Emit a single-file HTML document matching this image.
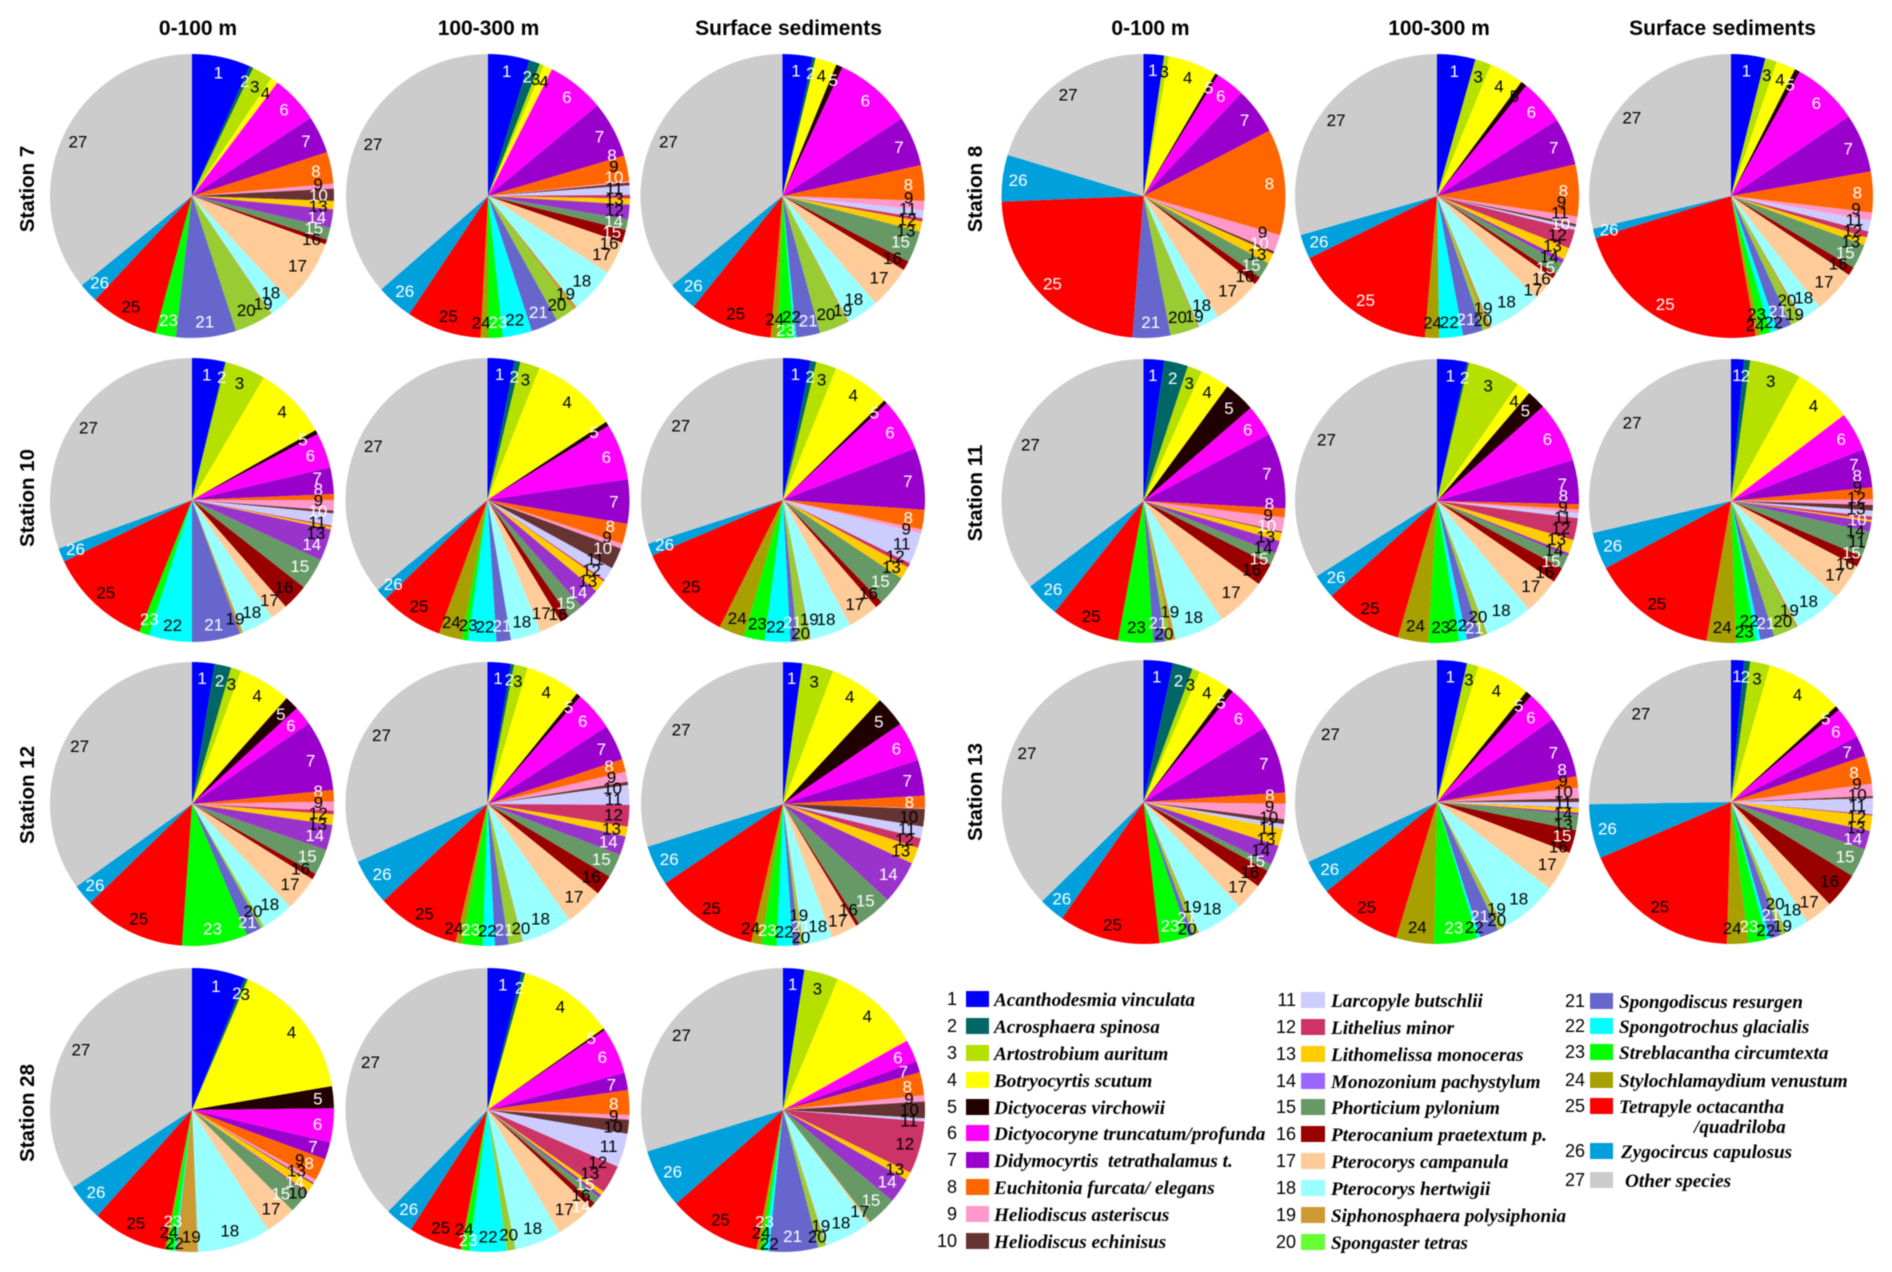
<!DOCTYPE html>
<html lang="en">
<head>
<meta charset="utf-8">
<title>Radiolarian species composition by station</title>
<style>
html,body{margin:0;padding:0;background:#fff;}
svg{display:block;filter:blur(0.4px);}
.title{font:bold 21px "Liberation Sans",sans-serif;text-anchor:middle;fill:#000;}
.station{font:bold 20.5px "Liberation Sans",sans-serif;text-anchor:middle;fill:#000;}
.num{font:18px "Liberation Sans",sans-serif;text-anchor:end;fill:#000;}
.sp{font:italic bold 19.2px "Liberation Serif",serif;fill:#000;}
.lab{font:17px "Liberation Sans",sans-serif;text-anchor:middle;}
</style>
</head>
<body>
<svg id="chart" xmlns="http://www.w3.org/2000/svg" width="1892" height="1272" viewBox="0 0 1892 1272">
<rect width="1892" height="1272" fill="#fff"/>

<text class="title" x="198" y="35">0-100 m</text>
<text class="title" x="488.5" y="35">100-300 m</text>
<text class="title" x="788.5" y="35">Surface sediments</text>
<text class="title" x="1150.5" y="35">0-100 m</text>
<text class="title" x="1439" y="35">100-300 m</text>
<text class="title" x="1722.5" y="35">Surface sediments</text>

<text class="station" transform="translate(34,189) rotate(-90)">Station 7</text>
<text class="station" transform="translate(982,189) rotate(-90)">Station 8</text>
<text class="station" transform="translate(34,498) rotate(-90)">Station 10</text>
<text class="station" transform="translate(982,493) rotate(-90)">Station 11</text>
<text class="station" transform="translate(34,795) rotate(-90)">Station 12</text>
<text class="station" transform="translate(982,792) rotate(-90)">Station 13</text>
<text class="station" transform="translate(34,1113) rotate(-90)">Station 28</text>

<g id="pies"></g>

<g>
<g><text class="num" x="957" y="1005">1</text><rect x="966" y="991" width="23" height="16" fill="#0000ff"/><text class="sp" x="994" y="1006">Acanthodesmia vinculata</text></g>
<g><text class="num" x="957" y="1032">2</text><rect x="966" y="1018" width="23" height="16" fill="#006666"/><text class="sp" x="994" y="1033">Acrosphaera spinosa</text></g>
<g><text class="num" x="957" y="1059">3</text><rect x="966" y="1045" width="23" height="16" fill="#b5e000"/><text class="sp" x="994" y="1060">Artostrobium auritum</text></g>
<g><text class="num" x="957" y="1086">4</text><rect x="966" y="1072" width="23" height="16" fill="#ffff00"/><text class="sp" x="994" y="1087">Botryocyrtis scutum</text></g>
<g><text class="num" x="957" y="1113">5</text><rect x="966" y="1099" width="23" height="16" fill="#200000"/><text class="sp" x="994" y="1114">Dictyoceras virchowii</text></g>
<g><text class="num" x="957" y="1139">6</text><rect x="966" y="1125" width="23" height="16" fill="#ff00ff"/><text class="sp" x="994" y="1140">Dictyocoryne truncatum/profunda</text></g>
<g><text class="num" x="957" y="1166">7</text><rect x="966" y="1152" width="23" height="16" fill="#9900cc"/><text class="sp" x="994" y="1167" xml:space="preserve">Didymocyrtis  tetrathalamus t.</text></g>
<g><text class="num" x="957" y="1193">8</text><rect x="966" y="1179" width="23" height="16" fill="#ff6600"/><text class="sp" x="994" y="1194">Euchitonia furcata/ elegans</text></g>
<g><text class="num" x="957" y="1220">9</text><rect x="966" y="1206" width="23" height="16" fill="#ff99cc"/><text class="sp" x="994" y="1221">Heliodiscus asteriscus</text></g>
<g><text class="num" x="957" y="1247">10</text><rect x="966" y="1233" width="23" height="16" fill="#663333"/><text class="sp" x="994" y="1248">Heliodiscus echinisus</text></g>

<g><text class="num" x="1296" y="1006">11</text><rect x="1301" y="992" width="24" height="16" fill="#ccccff"/><text class="sp" x="1331" y="1007">Larcopyle butschlii</text></g>
<g><text class="num" x="1296" y="1033">12</text><rect x="1301" y="1019" width="24" height="16" fill="#cc3366"/><text class="sp" x="1331" y="1034">Lithelius minor</text></g>
<g><text class="num" x="1296" y="1060">13</text><rect x="1301" y="1046" width="24" height="16" fill="#ffcc00"/><text class="sp" x="1331" y="1061">Lithomelissa monoceras</text></g>
<g><text class="num" x="1296" y="1087">14</text><rect x="1301" y="1073" width="24" height="16" fill="#9966ff"/><text class="sp" x="1331" y="1088">Monozonium pachystylum</text></g>
<g><text class="num" x="1296" y="1113">15</text><rect x="1301" y="1099" width="24" height="16" fill="#669966"/><text class="sp" x="1331" y="1114">Phorticium pylonium</text></g>
<g><text class="num" x="1296" y="1140">16</text><rect x="1301" y="1126" width="24" height="16" fill="#990000"/><text class="sp" x="1331" y="1141">Pterocanium praetextum p.</text></g>
<g><text class="num" x="1296" y="1167">17</text><rect x="1301" y="1153" width="24" height="16" fill="#ffcc99"/><text class="sp" x="1331" y="1168">Pterocorys campanula</text></g>
<g><text class="num" x="1296" y="1194">18</text><rect x="1301" y="1180" width="24" height="16" fill="#99ffff"/><text class="sp" x="1331" y="1195">Pterocorys hertwigii</text></g>
<g><text class="num" x="1296" y="1221">19</text><rect x="1301" y="1207" width="24" height="16" fill="#cc9933"/><text class="sp" x="1331" y="1222">Siphonosphaera polysiphonia</text></g>
<g><text class="num" x="1296" y="1248">20</text><rect x="1301" y="1234" width="24" height="16" fill="#66ff33"/><text class="sp" x="1331" y="1249">Spongaster tetras</text></g>

<g><text class="num" x="1585" y="1007">21</text><rect x="1590" y="993" width="23" height="16" fill="#6666cc"/><text class="sp" x="1619" y="1008">Spongodiscus resurgen</text></g>
<g><text class="num" x="1585" y="1032">22</text><rect x="1590" y="1018" width="23" height="16" fill="#00ffff"/><text class="sp" x="1619" y="1033">Spongotrochus glacialis</text></g>
<g><text class="num" x="1585" y="1058">23</text><rect x="1590" y="1044" width="23" height="16" fill="#00ff00"/><text class="sp" x="1619" y="1059">Streblacantha circumtexta</text></g>
<g><text class="num" x="1585" y="1086">24</text><rect x="1590" y="1072" width="23" height="16" fill="#a8a000"/><text class="sp" x="1619" y="1087">Stylochlamaydium venustum</text></g>
<g><text class="num" x="1585" y="1112">25</text><rect x="1590" y="1098" width="23" height="16" fill="#ff0000"/><text class="sp" x="1619" y="1113">Tetrapyle octacantha</text><text class="sp" x="1694" y="1133">/quadriloba</text></g>
<g><text class="num" x="1585" y="1157">26</text><rect x="1590" y="1143" width="23" height="16" fill="#00a0dc"/><text class="sp" x="1621" y="1158">Zygocircus capulosus</text></g>
<g><text class="num" x="1585" y="1186">27</text><rect x="1590" y="1172" width="23" height="16" fill="#cccccc"/><text class="sp" x="1625" y="1187">Other species</text></g>
</g>
</svg>

<script>
// Relative abundance of species 1..27; each sample is normalised by its sum when drawn.
const st7Upper  = [24,1.5,8.5,3,0,19.6,15.4,13,2,5,0,0,3.4,7.5,5,2,27,9,.5,15.5,24.6,0,8.4,0,28,8,129];
const st7Middle = [17,4.4,1.8,3.6,0,23.6,23.1,10.5,.6,1.1,3.9,1.4,2.5,6,4.4,5.3,13.5,18.7,1.5,8.1,11,12,6,3,30.7,15.1,131.2];
const st7Sed    = [12.3,1.2,0,8.8,2.7,32,20.4,14.6,3.7,0,3.3,1.4,4.1,0,13,3.9,17.6,13.3,.7,11.7,9.7,1.1,6.3,3,34,12.2,129];
const st8Upper  = [8.4,0,2,20,1.3,11.9,19,43.4,7,1,0,0,4.3,0,6.7,3.3,20,8.7,.7,11.3,15.5,0,0,0,83.2,19.1,73.2];
const st8Middle = [15.7,0,6.6,14.2,2.5,18.7,19.4,21.3,3,1.1,1.4,7.7,4.9,1.8,5,2.1,10.3,22,1.8,1.8,8.1,9.8,0,5.7,59.1,10,106];
const st8Sed    = [14,0,4.8,8,2.2,27,24,16.7,3.3,0,4.5,2.5,3.2,0,10.1,3.5,17.6,8.6,1,4,6,3,4,2,82.7,3.9,103.4];
const st10Upper = [13.4,.4,16.6,30.1,1.8,14.4,10.9,2.4,4.3,1.1,5,.6,1,13,13,10.7,7,13.3,1.2,0,19.8,17.7,4.1,0,42.5,5.7,110];
const st10Middle= [11,2.4,8.1,35.1,1.9,23.1,18.1,8.3,2,8.7,5.6,.7,5,8.6,6.4,4,9,12.5,0,0,5.9,11.6,2.4,9.6,25.8,4.9,129.3];
const st10Sed   = [11.2,2.4,8.4,23.5,1.5,21.7,25.3,8,1.6,0,12.9,1.8,5.2,0,12.5,3,12.8,17,.7,4.7,2.8,10.5,8.5,10.5,40.5,5,108];
const st11Upper = [8.5,9.7,6,12,12.8,13,31,3.7,5.8,.5,0,0,3.4,5.2,4.9,9.3,20.6,20.6,2,2,5,0,14.4,0,28.2,14.4,127];
const st11Middle= [12.2,.8,21.7,5.8,7.8,24.9,18.1,2.2,1.5,0,2,9,5.6,1.2,5.5,6.3,15.1,19.6,.6,2.4,5.5,3.2,12.6,12.4,32,10,122];
const st11Sed   = [5.3,2.5,21,23.9,0,16,15.8,4.8,2.3,2.3,2.4,1.4,.8,4,10.5,4.5,14.9,19.6,1,9.3,5.7,2,8,12,51.8,15.2,103];
const st12Upper = [9.2,6.8,4.2,21.6,5.8,7.8,28.9,4.7,3.7,0,0,1.5,4.3,10.4,10.6,2.5,14.3,13.3,0,1.4,6.2,0,26.9,0,41.7,8.6,125.6];
const st12Middle= [9.5,1.3,5.6,22.6,1.8,16.2,14.6,5.2,4.2,1.3,8.1,8.8,4.1,7.7,9.8,8.2,15.8,20.8,.4,5.5,5.5,5,8.4,2.6,34,19,114];
const st12Sed   = [7.8,0,12.9,22.3,12.7,16.3,14.6,5.1,.3,7.2,4.8,4,6.7,17.8,15.1,1.4,10.8,12,.6,1.1,2.5,6.6,6.1,4.3,43,16.5,107.5];
const st13Upper = [12,8.2,3.2,13.4,2.2,19.5,27.7,4.5,6.3,2,2,0,7,8,3,7.3,11.2,19.5,.8,1.7,2,0,12,0,41.5,10.6,134.4];
const st13Middle= [12.2,0,4.8,22,2.6,12.8,25.1,4.7,4.3,1.5,2.3,.2,1.8,.9,6.3,9.5,16.6,24.2,.8,1.9,7.8,1.2,17.7,15.5,34.3,14,115];
const st13Sed   = [5.3,2.5,8.1,31.7,1.9,13.1,8.4,11.6,5,.9,6.5,.5,6.3,7.7,11.9,14.6,11.6,9.4,.5,2,4.5,1.5,7.5,8.7,65.2,22.2,90.9];
const st28Upper = [21.8,1.2,.5,56.8,9,14,7,9.2,1.5,.5,0,0,3.9,.6,9,0,12.6,30,8.9,0,0,.8,2.9,.8,30.8,15.2,123];
const st28Middle= [13.9,1.5,0,39.5,.8,19.1,7.1,10.1,2,5.7,13.8,11.6,1.7,1.2,3,2.5,16.1,19,0,3.6,0,15.1,3.1,.5,21.8,11.7,135.6];
const st28Sed   = [8.7,0,14.1,38,0,9.2,4.6,9.4,2.6,6.8,1.3,21.5,3.3,10.2,12.5,0,.9,19.3,.5,2.8,20,1.9,1.7,1.5,38,24.3,107];

const speciesIds = [1,2,3,4,5,6,7,8,9,10,11,12,13,14,15,16,17,18,19,20,21,22,23,24,25,26,27];
const sliceColors = ["#0000ff","#006666","#b5e000","#ffff00","#200000","#ff00ff","#9900cc","#ff6600","#ff99cc","#663333","#ccccff","#cc3366","#ffcc00","#9933cc","#669966","#990000","#ffcc99","#99ffff","#cc9933","#99cc33","#6666cc","#00ffff","#00ff00","#a8a000","#ff0000","#00a0dc","#cccccc"];

const radius = 142;
const labelRadius = 0.89;
const W = [1,6,7,8,15,21,26];
const samples = [
  {name:"station-7-0-100-m", v:st7Upper, cx:192, cy:196, white:W.concat([2,10,14,23]), skip:[]},
  {name:"station-7-100-300-m", v:st7Middle, cx:488, cy:196, white:W.concat([2,10,14,23]), skip:[]},
  {name:"station-7-surface-sediments", v:st7Sed, cx:782.5, cy:196, white:W.concat([2,5,23]), skip:[]},
  {name:"station-8-0-100-m", v:st8Upper, cx:1143.5, cy:196, white:W.concat([5,10,25]), skip:[]},
  {name:"station-8-100-300-m", v:st8Middle, cx:1437, cy:196, white:W.concat([10,25]), skip:[]},
  {name:"station-8-surface-sediments", v:st8Sed, cx:1731, cy:196, white:W.concat([5,25]), skip:[]},
  {name:"station-10-0-100-m", v:st10Upper, cx:192, cy:500, white:W.concat([2,5,10,14,23]), skip:[12]},
  {name:"station-10-100-300-m", v:st10Middle, cx:487.5, cy:500, white:W.concat([2,5,10,14]), skip:[]},
  {name:"station-10-surface-sediments", v:st10Sed, cx:783, cy:500, white:W.concat([2,5]), skip:[]},
  {name:"station-11-0-100-m", v:st11Upper, cx:1143.5, cy:501, white:W.concat([2,5,10]), skip:[]},
  {name:"station-11-100-300-m", v:st11Middle, cx:1437, cy:501, white:W.concat([2,5]), skip:[19]},
  {name:"station-11-surface-sediments", v:st11Sed, cx:1731, cy:501, white:W.concat([2,10]), skip:[]},
  {name:"station-12-0-100-m", v:st12Upper, cx:192, cy:804, white:W.concat([2,5,14,23]), skip:[]},
  {name:"station-12-100-300-m", v:st12Middle, cx:487.5, cy:804, white:W.concat([2,5,14,23]), skip:[19]},
  {name:"station-12-surface-sediments", v:st12Sed, cx:783, cy:804, white:W.concat([5,14,23]), skip:[9]},
  {name:"station-13-0-100-m", v:st13Upper, cx:1143.5, cy:802, white:W.concat([2,5,23]), skip:[]},
  {name:"station-13-100-300-m", v:st13Middle, cx:1437, cy:802, white:W.concat([5,23]), skip:[12]},
  {name:"station-13-surface-sediments", v:st13Sed, cx:1731, cy:802, white:W.concat([2,5,14,23]), skip:[]},
  {name:"station-28-0-100-m", v:st28Upper, cx:192, cy:1110, white:[1,2,5,6,7,8,14,15,23,26], skip:[]},
  {name:"station-28-100-300-m", v:st28Middle, cx:487.5, cy:1110, white:[1,2,5,6,7,8,14,15,23,26], skip:[]},
  {name:"station-28-surface-sediments", v:st28Sed, cx:783, cy:1110, white:W.concat([14,23]), skip:[]}
];

const NS = "http://www.w3.org/2000/svg";
const root = document.getElementById("pies");

function pointAt(cx, cy, r, frac) {
  const a = frac * 2 * Math.PI;
  return [cx + r * Math.sin(a), cy - r * Math.cos(a)];
}

// Spread crowded labels apart: the crowded ones stagger around their slice mid-angle.
function relaxLabels(items, cx, cy) {
  const maxR = radius - 8;
  for (let iter = 0; iter < 50; iter++) {
    for (let i = 0; i < items.length; i++) {
      for (let j = i + 1; j < items.length; j++) {
        const a = items[i], b = items[j];
        const dx = b.x - a.x, dy = b.y - a.y;
        const ox = a.hw + b.hw - Math.abs(dx);
        const oy = 5.5 + 5.5 - Math.abs(dy);
        if (ox > 0 && oy > 0) {
          if (ox < oy) {
            const m = (dx >= 0 ? 1 : -1) * ox / 2;
            a.x -= m; b.x += m;
          } else {
            const m = (dy >= 0 ? 1 : -1) * oy / 2;
            a.y -= m; b.y += m;
          }
        }
      }
    }
    items.forEach(function (it) {
      const ddx = it.x - cx, ddy = it.y - cy;
      const d = Math.hypot(ddx, ddy);
      if (d > maxR) { it.x = cx + ddx * maxR / d; it.y = cy + ddy * maxR / d; }
    });
  }
}

samples.forEach(function (s) {
  const g = document.createElementNS(NS, "g");
  
  
  root.appendChild(g);
  const total = s.v.reduce(function (a, b) { return a + b; }, 0);
  let acc = 0;
  const labels = [];
  s.v.forEach(function (val, i) {
    if (val <= 0) return;
    const f0 = acc / total;
    const f1 = (acc + val) / total;
    acc += val;
    const p0 = pointAt(s.cx, s.cy, radius, f0);
    const p1 = pointAt(s.cx, s.cy, radius, f1);
    const large = f1 - f0 > 0.5 ? 1 : 0;
    const path = document.createElementNS(NS, "path");
    path.setAttribute("d", "M" + s.cx + " " + s.cy + "L" + p0[0].toFixed(2) + " " + p0[1].toFixed(2) +
      "A" + radius + " " + radius + " 0 " + large + " 1 " + p1[0].toFixed(2) + " " + p1[1].toFixed(2) + "Z");
    path.setAttribute("fill", sliceColors[i]);
    
    
    g.appendChild(path);
    if (s.skip.indexOf(speciesIds[i]) < 0) {
      const id = speciesIds[i];
      const p = pointAt(s.cx, s.cy, radius * labelRadius, (f0 + f1) / 2);
      labels.push({id: id, x: p[0], y: p[1], hw: String(id).length * 4.2});
    }
  });
  relaxLabels(labels, s.cx, s.cy);
  labels.forEach(function (l) {
    const t = document.createElementNS(NS, "text");
    t.setAttribute("class", "lab");
    t.setAttribute("x", l.x.toFixed(1));
    t.setAttribute("y", (l.y + 6).toFixed(1));
    t.setAttribute("fill", s.white.indexOf(l.id) >= 0 ? "#fff" : "#000");
    
    
    t.textContent = String(l.id);
    g.appendChild(t);
  });
});
</script>
</body>
</html>
